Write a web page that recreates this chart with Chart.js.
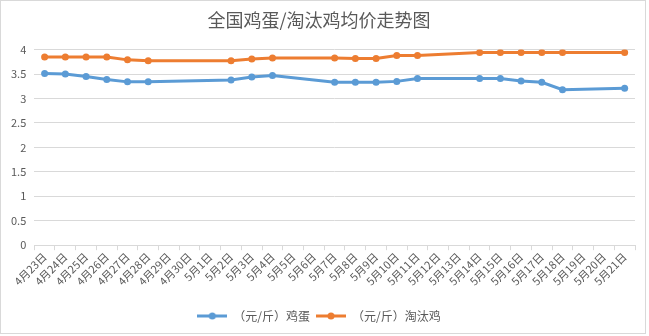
<!DOCTYPE html>
<html>
<head>
<meta charset="utf-8">
<script src="https://cdn.jsdelivr.net/npm/chart.js@4"></script>
<style>
  html, body { margin: 0; padding: 0; background: #fff; }
  #wrap { width: 649px; height: 336px; }
</style>
</head>
<body>
<div id="wrap"><canvas id="chart" width="649" height="336"></canvas></div>
<script>
// Categories
const days = [
  '4月23日', '4月24日', '4月25日', '4月26日', '4月27日', '4月28日', '4月29日', '4月30日',
  '5月1日', '5月2日', '5月3日', '5月4日', '5月5日', '5月6日', '5月7日', '5月8日',
  '5月9日', '5月10日', '5月11日', '5月12日', '5月13日', '5月14日', '5月15日', '5月16日',
  '5月17日', '5月18日', '5月19日', '5月20日', '5月21日'
];

// Egg price (yuan / jin), null = no quote that day
const eggPrice = [
  3.51, 3.50, 3.45, 3.39, 3.34, 3.34, null, null,
  null, 3.38, 3.44, 3.47, null, null, 3.33, 3.33,
  3.33, 3.35, 3.41, null, null, 3.41, 3.41, 3.36,
  3.33, 3.18, null, null, 3.21
];

// Culled hen price (yuan / jin)
const henPrice = [
  3.85, 3.85, 3.85, 3.85, 3.79, 3.77, null, null,
  null, 3.77, 3.81, 3.83, null, null, 3.83, 3.82,
  3.82, 3.88, 3.88, null, null, 3.94, 3.94, 3.94,
  3.94, 3.94, null, null, 3.94
];

const yTicks = [0, 0.5, 1, 1.5, 2, 2.5, 3, 3.5, 4];

const BLUE = '#5B9BD5';
const ORANGE = '#ED7D31';
const TEXT = '#595959';
const GRID = '#D9D9D9';
const FONT = "'Noto Sans CJK SC', 'Noto Sans', sans-serif";

// legend marker: short line with a dot, like Excel
function legendMarker(color) {
  const c = document.createElement('canvas');
  c.width = 30; c.height = 10;
  const g = c.getContext('2d');
  g.strokeStyle = color;
  g.lineWidth = 3;
  g.beginPath();
  g.moveTo(0, 5);
  g.lineTo(30, 5);
  g.stroke();
  g.fillStyle = color;
  g.beginPath();
  g.arc(15, 5, 3.5, 0, Math.PI * 2);
  g.fill();
  return c;
}

const frame = {
  id: 'frame',
  afterDraw(chart) {
    const ctx = chart.ctx;
    ctx.save();
    ctx.strokeStyle = GRID;
    ctx.lineWidth = 1;
    ctx.strokeRect(0.5, 0.5, 645, 333);
    ctx.restore();
  }
};

function series(label, data, color) {
  return {
    label: label,
    data: data,
    borderColor: color,
    backgroundColor: color,
    borderWidth: 3,
    pointRadius: 3.5,
    pointBorderWidth: 0,
    pointHoverRadius: 3.5,
    pointStyle: 'circle',
    spanGaps: true,
    tension: 0,
    fill: false
  };
}

new Chart(document.getElementById('chart').getContext('2d'), {
  type: 'line',
  data: {
    labels: days,
    datasets: [
      series('（元/斤）鸡蛋', eggPrice, BLUE),
      series('（元/斤）淘汰鸡', henPrice, ORANGE)
    ]
  },
  options: {
    responsive: false,
    animation: false,
    layout: { padding: { left: 3, right: 14, top: 0, bottom: 4 } },
    plugins: {
      title: {
        display: true,
        text: '全国鸡蛋/淘汰鸡均价走势图',
        color: TEXT,
        font: { family: FONT, size: 18, weight: 'normal' },
        padding: { top: 9, bottom: 19 }
      },
      legend: {
        position: 'bottom',
        labels: {
          color: TEXT,
          font: { family: FONT, size: 12 },
          usePointStyle: true,
          pointStyleWidth: 30,
          boxHeight: 10,
          padding: 6,
          generateLabels(chart) {
            return chart.data.datasets.map((ds, i) => ({
              text: ds.label,
              fontColor: TEXT,
              pointStyle: legendMarker(ds.borderColor),
              strokeStyle: ds.borderColor,
              fillStyle: ds.borderColor,
              lineWidth: 0,
              hidden: false,
              datasetIndex: i
            }));
          }
        }
      },
      tooltip: { enabled: false }
    },
    scales: {
      x: {
        offset: true,
        afterFit(axis) {
          axis.height += 16;
        },
        grid: {
          offset: true,
          drawOnChartArea: false,
          drawTicks: true,
          tickLength: 5,
          color: GRID
        },
        border: { display: true, color: GRID },
        ticks: {
          color: TEXT,
          font: { family: FONT, size: 11 },
          minRotation: 45,
          maxRotation: 45,
          autoSkip: false,
          padding: 0
        }
      },
      y: {
        min: 0,
        max: 4,
        afterBuildTicks(axis) {
          axis.ticks = yTicks.map(v => ({ value: v }));
        },
        grid: { color: GRID, drawTicks: false },
        border: { display: false },
        ticks: {
          color: TEXT,
          font: { family: FONT, size: 11 },
          padding: 8,
          callback: v => String(v)
        }
      }
    }
  },
  plugins: [frame]
});
</script>
</body>
</html>
